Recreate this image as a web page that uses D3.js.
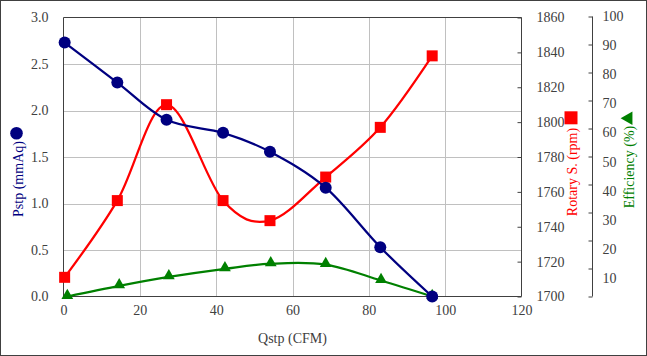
<!DOCTYPE html>
<html>
<head>
<meta charset="utf-8">
<script src="https://cdn.jsdelivr.net/npm/d3@7"></script>
<style>
  html, body { margin: 0; padding: 0; background: #fff; }
  svg { display: block; }
  text { font-family: "Liberation Serif", "Times New Roman", serif; }
</style>
</head>
<body>
<svg id="chart" width="647" height="356"></svg>
<script>
// ---- data ----
const qstp       = [0.3, 14.1, 27.0, 41.8, 54.1, 68.7, 83.0, 96.6];
const pstp       = [2.73, 2.30, 1.90, 1.76, 1.556, 1.17, 0.53, 0.0];
const rotary     = [1711, 1755, 1810, 1755, 1743.5, 1768.5, 1797, 1838];
const qstpEff    = [1.0, 14.6, 27.6, 42.3, 54.3, 68.7, 83.2, 96.6];
const efficiency = [0.0, 3.8, 7.0, 9.9, 11.7, 11.4, 5.7, 0.0];

const xTicks     = [0, 20, 40, 60, 80, 100, 120];
const pTicks     = [0, 0.5, 1.0, 1.5, 2.0, 2.5, 3.0];
const rpmTicks   = [1700, 1720, 1740, 1760, 1780, 1800, 1820, 1840, 1860];
const effTicks   = [0, 10, 20, 30, 40, 50, 60, 70, 80, 90, 100];
const effLabels  = [10, 20, 30, 40, 50, 60, 70, 80, 90, 100];

const C_BLUE = "#000080", C_RED = "#ff0000", C_GREEN = "#008000";
const C_AXIS = "#404040", C_GRID = "#c0c0c0", C_TEXT = "#404040";

const svg = d3.select("#chart");
const W = 647, H = 356;

// outer border
svg.append("rect").attr("x", 0.5).attr("y", 0.5).attr("width", W - 1).attr("height", H - 1)
  .attr("fill", "#fff").attr("stroke", "#404040").attr("stroke-width", 1);

const L = 63.5, R = 521.5, T = 17.5, B = 296.5;

const x  = d3.scaleLinear().domain([0, 120]).range([L, R]);
const y  = d3.scaleLinear().domain([0, 3]).range([B, T]);
const yR = d3.scaleLinear().domain([1700, 1860]).range([B, T]);
const yE = d3.scaleLinear().domain([0, 100]).range([B, T - 1]);
const yEL = d3.scaleLinear().domain([0, 100]).range([307.5, 15.7]);

// gridlines
const grid = svg.append("g");
grid.selectAll("line.h").data(pTicks.filter(d => d > 0 && d < 3)).join("line")
  .attr("x1", L).attr("x2", R).attr("y1", d => Math.round(y(d)) + 0.5).attr("y2", d => Math.round(y(d)) + 0.5)
  .attr("stroke", C_GRID).attr("stroke-width", 1);
grid.selectAll("line.v").data(xTicks.filter(d => d > 0 && d < 120)).join("line")
  .attr("y1", T).attr("y2", B).attr("x1", d => Math.round(x(d)) + 0.5).attr("x2", d => Math.round(x(d)) + 0.5)
  .attr("stroke", C_GRID).attr("stroke-width", 1);

// plot frame lines
svg.append("line").attr("x1", L).attr("x2", L).attr("y1", T).attr("y2", B).attr("stroke", C_AXIS);
svg.append("line").attr("x1", L).attr("x2", R).attr("y1", T).attr("y2", T).attr("stroke", C_AXIS);
svg.append("line").attr("x1", L).attr("x2", R).attr("y1", B).attr("y2", B).attr("stroke", C_AXIS);
svg.append("line").attr("x1", R).attr("x2", R).attr("y1", T).attr("y2", B).attr("stroke", C_AXIS);

function styleAxis(g) {
  g.select(".domain").remove();
  g.selectAll("text").attr("fill", C_TEXT).style("font-size", "14px")
    .style("font-family", '"Liberation Serif", "Times New Roman", serif');
  g.selectAll(".tick line").attr("stroke", C_AXIS);
}

// left axis
svg.append("g").attr("transform", `translate(${L},0)`)
  .call(d3.axisLeft(y).tickValues(pTicks).tickFormat(d3.format(".1f")).tickSize(0).tickPadding(15))
  .call(styleAxis);

// bottom axis
svg.append("g").attr("transform", `translate(0,${B})`)
  .call(d3.axisBottom(x).tickValues(xTicks).tickFormat(d3.format("d")).tickSize(0).tickPadding(9))
  .call(styleAxis);

// right rpm axis (ticks inward)
svg.append("g").attr("transform", `translate(${R},0)`)
  .call(d3.axisRight(yR).tickValues(rpmTicks).tickFormat(d3.format("d")).tickSizeInner(-4).tickSizeOuter(0).tickPadding(15))
  .call(styleAxis);

// efficiency axis: ticks
const EX = 592.5;
svg.append("line").attr("x1", EX).attr("x2", EX).attr("y1", yE(100)).attr("y2", yE(0)).attr("stroke", C_AXIS);
svg.append("g").attr("transform", `translate(${EX},0)`)
  .call(d3.axisLeft(yE).tickValues(effTicks).tickFormat("").tickSize(4))
  .call(styleAxis);
// efficiency axis: labels
svg.append("g").attr("transform", `translate(${EX},0)`)
  .call(d3.axisRight(yEL).tickValues(effLabels).tickFormat(d3.format("d")).tickSize(0).tickPadding(10))
  .call(styleAxis);

// series
const curve = d3.curveCardinal.tension(0);
const plot = svg.append("g");

const idx = d3.range(qstp.length);

// efficiency (green)
plot.append("path").datum(idx)
  .attr("d", d3.line().x(i => x(qstpEff[i])).y(i => yE(efficiency[i])).curve(curve))
  .attr("fill", "none").attr("stroke", C_GREEN).attr("stroke-width", 2.25);
// rotary (red)
plot.append("path").datum(idx)
  .attr("d", d3.line().x(i => x(qstp[i])).y(i => yR(rotary[i])).curve(curve))
  .attr("fill", "none").attr("stroke", C_RED).attr("stroke-width", 2.25);
// pstp (blue)
plot.append("path").datum(idx)
  .attr("d", d3.line().x(i => x(qstp[i])).y(i => y(pstp[i])).curve(curve))
  .attr("fill", "none").attr("stroke", C_BLUE).attr("stroke-width", 2.25);

// markers
const tri = d3.symbol().type(d3.symbolTriangle).size(60);
plot.selectAll("path.tri").data(idx).join("path").attr("class", "tri")
  .attr("d", tri)
  .attr("transform", i => `translate(${x(qstpEff[i])},${yE(efficiency[i]) - 1})`)
  .attr("fill", C_GREEN);
plot.selectAll("rect.sq").data(idx).join("rect").attr("class", "sq")
  .attr("x", i => x(qstp[i]) - 5.5).attr("y", i => yR(rotary[i]) - 5.5)
  .attr("width", 11).attr("height", 11).attr("fill", C_RED);
plot.selectAll("circle.dot").data(idx).join("circle").attr("class", "dot")
  .attr("cx", i => x(qstp[i])).attr("cy", i => y(pstp[i])).attr("r", 6)
  .attr("fill", C_BLUE);

// axis titles
svg.append("text").attr("x", x(60)).attr("y", 343).attr("text-anchor", "middle")
  .attr("fill", C_TEXT).style("font-size", "14px").text("Qstp (CFM)");

svg.append("circle").attr("cx", 16.5).attr("cy", 133.3).attr("r", 6.3).attr("fill", C_BLUE);
svg.append("text").attr("transform", "translate(18.5,179) rotate(-90)")
  .attr("text-anchor", "middle").attr("dominant-baseline", "central")
  .attr("fill", C_BLUE).style("font-size", "14px").text("Pstp (mmAq)");

svg.append("rect").attr("x", 564.5).attr("y", 111.3).attr("width", 13).attr("height", 13).attr("fill", C_RED);
svg.append("text").attr("transform", "translate(572,172) rotate(-90)")
  .attr("text-anchor", "middle").attr("dominant-baseline", "central")
  .attr("fill", C_RED).style("font-size", "14px").text("Rotary S. (rpm)");

svg.append("path").attr("d", d3.symbol().type(d3.symbolTriangle).size(80))
  .attr("transform", "translate(628.5,118.3) rotate(-90)").attr("fill", C_GREEN);
svg.append("text").attr("transform", "translate(629,167) rotate(-90)")
  .attr("text-anchor", "middle").attr("dominant-baseline", "central")
  .attr("fill", C_GREEN).style("font-size", "14px").text("Efficiency (%)");
</script>
</body>
</html>
